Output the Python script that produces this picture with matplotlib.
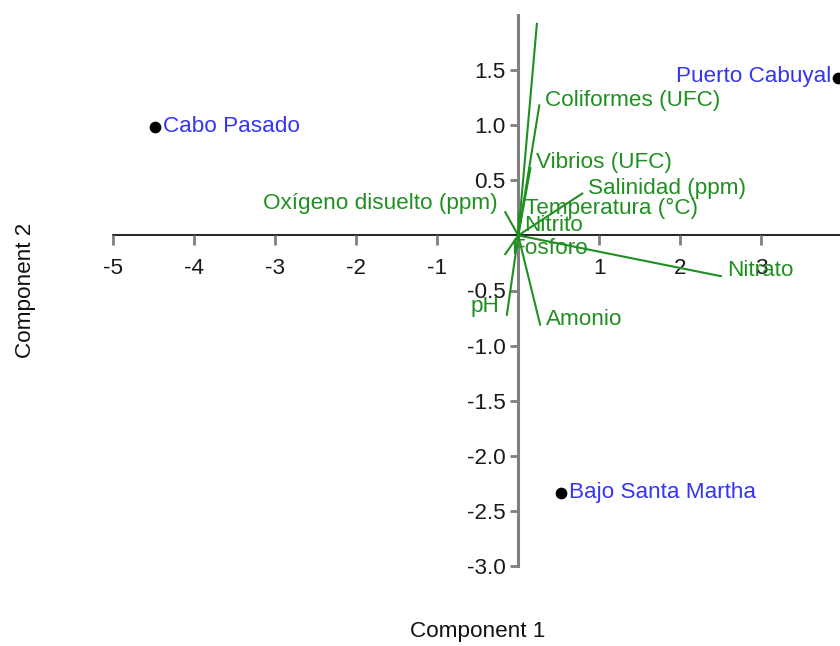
import matplotlib
matplotlib.use("Agg")
import matplotlib.pyplot as plt

plt.rcParams['font.family'] = ['Liberation Sans', 'DejaVu Sans']

# Sites (scores)
sites = ["Cabo Pasado", "Puerto Cabuyal", "Bajo Santa Martha"]
site_x = [-4.48, 3.95, 0.53]
site_y = [0.98, 1.43, -2.34]
site_ha = ["left", "right", "left"]

# Variables (loadings)
variables = ["", "Coliformes (UFC)", "Vibrios (UFC)", "Salinidad (ppm)",
             "Temperatura (°C)", "Nitrito", "Fosforo", "Nitrato", "Amonio",
             "pH", "Oxígeno disuelto (ppm)"]
var_x = [0.23, 0.26, 0.15, 0.79, 0.01, 0.00, -0.16, 2.50, 0.27, -0.14, -0.16]
var_y = [1.92, 1.18, 0.61, 0.38, 0.20, 0.04, -0.17, -0.37, -0.81, -0.72, 0.21]
var_ha = ["left", "left", "left", "left", "left", "left", "left", "left", "left",
          "right", "right"]

xticks = [-5, -4, -3, -2, -1, 1, 2, 3]
yticks = [-3.0, -2.5, -2.0, -1.5, -1.0, -0.5, 0.5, 1.0, 1.5]

GREEN = "#1f8f1f"
BLUE = "#3535f5"
FS = 16.2

fig = plt.figure(figsize=(8.4, 6.46), dpi=100)
ax = fig.add_axes([113/840, 80/646, 1 - 113/840, (566-15)/646])
ax.set_xlim(-5, 3.97)
ax.set_ylim(-3.0, 2.0)

for sp in ["top", "right"]:
    ax.spines[sp].set_visible(False)
ax.spines["left"].set_position(("data", 0))
ax.spines["bottom"].set_position(("data", 0))
ax.spines["left"].set_color("#808080")
ax.spines["left"].set_linewidth(2.2)
ax.spines["bottom"].set_color("#111111")
ax.spines["bottom"].set_linewidth(1.3)
ax.spines["left"].set_zorder(1)
ax.spines["bottom"].set_zorder(1)

ax.set_xticks(xticks)
ax.set_xticklabels([f"{t:d}" for t in xticks])
ax.set_yticks(yticks)
ax.set_yticklabels([f"{t:.1f}" for t in yticks])
ax.tick_params(axis="x", length=7, width=2, color="#808080", pad=9.5,
               labelsize=FS, labelcolor="#1a1a1a")
ax.tick_params(axis="y", length=6, width=2, color="#808080", pad=3,
               labelsize=FS, labelcolor="#1a1a1a")

# loading lines
for lab, x, y, ha in zip(variables, var_x, var_y, var_ha):
    ax.plot([0, x], [0, y], color=GREEN, lw=1.5, zorder=3, clip_on=False)
    if lab:
        dx = 4.3 if ha == "left" else -5.5
        dy = 3.8 if ha == "left" else 6.0
        ax.annotate(lab, (x, y), xytext=(dx, dy), textcoords="offset points",
                    ha=ha, va="center", color=GREEN, fontsize=FS, zorder=4)

# site points
ax.scatter(site_x, site_y, s=55, color="black", zorder=5, clip_on=False)
for lab, x, y, ha in zip(sites, site_x, site_y, site_ha):
    dx = 5.5 if ha == "left" else -5
    dy = 0.5 if ha == "left" else 1.0
    ax.annotate(lab, (x, y), xytext=(dx, dy), textcoords="offset points",
                ha=ha, va="center", color=BLUE, fontsize=FS, zorder=6)

fig.text(478/840, 1 - 632/646, "Component 1", ha="center", va="center",
         fontsize=FS, color="#111111")
fig.text(25/840, 1 - 290/646, "Component 2", ha="center", va="center",
         rotation=90, fontsize=FS, color="#111111")

fig.savefig("out.png", dpi=100)
